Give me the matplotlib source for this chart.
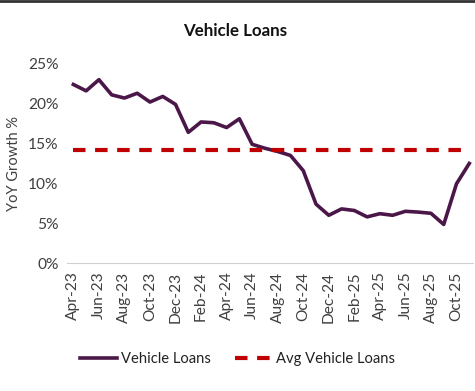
import matplotlib.pyplot as plt
import pandas as pd

# Monthly YoY growth of vehicle loans (%), Apr-23 .. Nov-25
months = pd.date_range('2023-04-01', '2025-11-01', freq='MS')
growth = [22.4, 21.6, 23.0, 21.1, 20.7, 21.3, 20.2, 20.9, 19.9, 16.4,
          17.7, 17.6, 17.0, 18.1, 14.9, 14.4, 14.0, 13.5, 11.6, 7.4,
          6.0, 6.8, 6.6, 5.8, 6.2, 6.0, 6.5, 6.4, 6.25, 4.85,
          9.95, 12.5]
avg_growth = 14.2
tick_labels = [m.strftime('%b-%y') for m in months][::2]

plt.rcParams['font.family'] = ['Lato', 'DejaVu Sans']
fig = plt.figure(figsize=(4.75, 3.91), dpi=100)
ax = fig.add_axes([0.141, 0.327, 0.855, 0.51])

x = list(range(len(months)))
ax.plot(x, growth, color='#4B1748', lw=2.6, label='Vehicle Loans', solid_joinstyle='round')
ax.plot(x, [avg_growth] * len(x), color='#C00000', lw=3, ls=(0, (3, 2.3)),
        label='Avg Vehicle Loans')

ax.set_ylim(0, 25)
ax.set_yticks([0, 5, 10, 15, 20, 25])
ax.set_yticklabels([f'{v}%' for v in [0, 5, 10, 15, 20, 25]])
ax.set_xlim(-0.5, len(x) - 0.7)
ax.set_xticks(x[::2])
ax.set_xticklabels(tick_labels, rotation=90)
ax.tick_params(length=0, labelsize=11.2, colors='#404040', pad=6)

for side in ['top', 'right', 'left']:
    ax.spines[side].set_visible(False)
ax.spines['bottom'].set_color('#D0D0D0')

ax.set_ylabel('YoY Growth %', fontsize=10.5, color='#404040', labelpad=5)
fig.text(0.495, 0.92, 'Vehicle Loans', ha='center', va='center',
         fontsize=12.2, fontweight='bold', color='#111111')

fig.legend(loc='center', bbox_to_anchor=(0.5, 0.082), ncol=2, frameon=False,
           fontsize=10.6, handlelength=2.5, columnspacing=1.6, handletextpad=0.3,
           labelcolor='#222222')

fig.add_artist(plt.Line2D([0, 1], [0.997, 0.997], color='#333333', lw=2,
                          transform=fig.transFigure))

fig.savefig('out.png', dpi=100)
